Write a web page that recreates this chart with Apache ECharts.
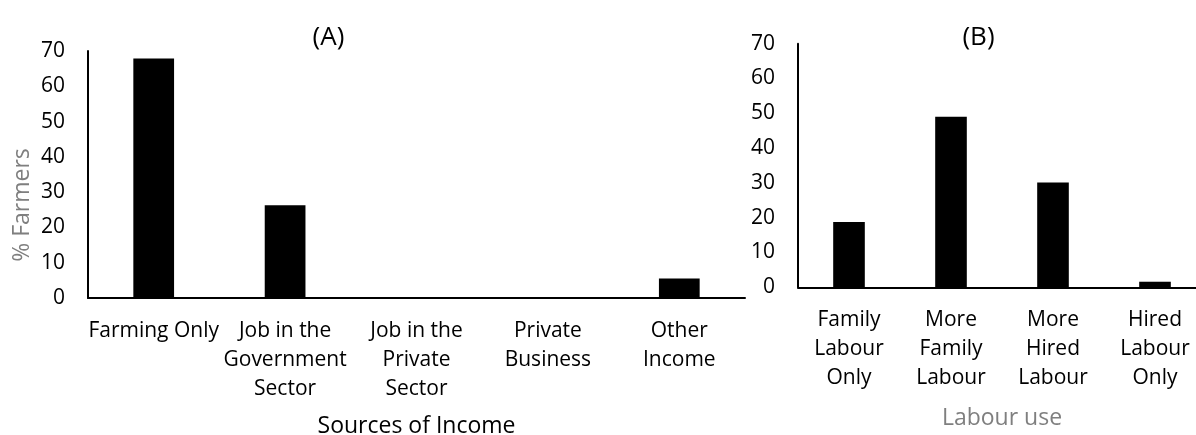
<!DOCTYPE html>
<html>
<head>
<meta charset="utf-8">
<script src="https://cdn.jsdelivr.net/npm/echarts@6/dist/echarts.min.js"></script>
<style>
html,body{margin:0;padding:0;background:#fff;}
#chart{width:1196px;height:435px;}
</style>
</head>
<body>
<div id="chart"></div>
<script>
// ---- data ----
const incomeCategories = ['Farming Only', 'Job in the\nGovernment\nSector', 'Job in the\nPrivate\nSector', 'Private\nBusiness', 'Other\nIncome'];
const incomeValues = [67.9, 26.3, 0, 0, 5.5];
const labourCategories = ['Family\nLabour\nOnly', 'More\nFamily\nLabour', 'More\nHired\nLabour', 'Hired\nLabour\nOnly'];
const labourValues = [18.8, 49.0, 30.1, 1.6];
const yTicks = [0, 10, 20, 30, 40, 50, 60, 70];
const titleA = '(A)';
const titleB = '(B)';
const xNameA = 'Sources of Income';
const xNameB = 'Labour use';
const yNameA = '% Farmers';

const FONT = 'Open Sans';
const chart = echarts.init(document.getElementById('chart'));

function xAxisCfg(idx, cats, name, gap, nameColor, margin) {
  return {
    type: 'category', gridIndex: idx, data: cats,
    name: name, nameLocation: 'middle', nameGap: gap,
    nameTextStyle: { fontFamily: FONT, fontSize: 23, color: nameColor, lineHeight: 28 },
    axisLine: { show: true, lineStyle: { color: '#000', width: 2 } },
    axisTick: { show: false },
    axisLabel: { interval: 0, margin: margin, fontFamily: FONT, fontSize: 21, color: '#000', lineHeight: 29 },
    splitLine: { show: false }
  };
}
function yAxisCfg(idx) {
  return {
    type: 'value', gridIndex: idx, min: yTicks[0], max: yTicks[yTicks.length - 1], interval: yTicks[1] - yTicks[0],
    axisLine: { show: true, lineStyle: { color: '#000', width: 2 } },
    axisTick: { show: false },
    axisLabel: { margin: 23, fontFamily: FONT, fontSize: 21, color: '#000' },
    splitLine: { show: false }
  };
}

chart.setOption({
  animation: false,
  backgroundColor: '#fff',
  title: [
    { text: titleA, left: 323.5, top: 17, textAlign: 'center', textStyle: { fontFamily: FONT, fontSize: 26, fontWeight: 'normal', color: '#000', lineHeight: 32 } },
    { text: titleB, left: 973.5, top: 17, textAlign: 'center', textStyle: { fontFamily: FONT, fontSize: 26, fontWeight: 'normal', color: '#000', lineHeight: 32 } }
  ],
  grid: [
    { left: 88, top: 51, width: 657, height: 247, outerBoundsMode: 'none', containLabel: false },
    { left: 798, top: 43.7, width: 408, height: 243.6, outerBoundsMode: 'none', containLabel: false }
  ],
  xAxis: [
    xAxisCfg(0, incomeCategories, xNameA, 114, '#000', 19),
    xAxisCfg(1, labourCategories, xNameB, 117, '#7f7f7f', 18)
  ],
  yAxis: [yAxisCfg(0), yAxisCfg(1)],
  graphic: [
    { type: 'text', x: 22, y: 205, rotation: Math.PI / 2,
      style: { text: yNameA, fontFamily: FONT, fontSize: 23, fill: '#7f7f7f', align: 'center', verticalAlign: 'middle' } }
  ],
  series: [
    { type: 'bar', xAxisIndex: 0, yAxisIndex: 0, data: incomeValues, barWidth: '31%', itemStyle: { color: '#000' } },
    { type: 'bar', xAxisIndex: 1, yAxisIndex: 1, data: labourValues, barWidth: '31%', itemStyle: { color: '#000' } }
  ]
});
</script>
</body>
</html>
